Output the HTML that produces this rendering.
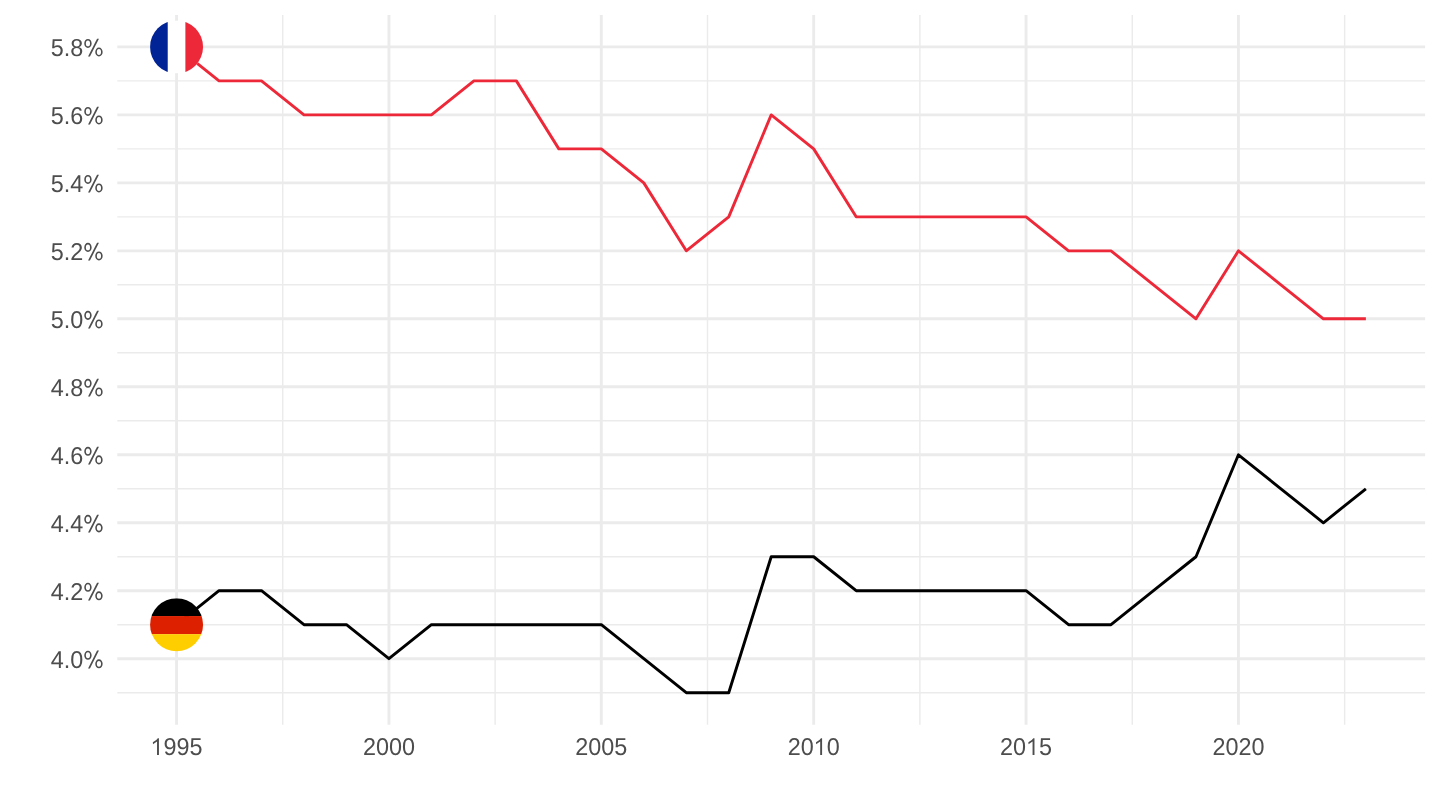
<!DOCTYPE html><html><head><meta charset="utf-8"><style>html,body{margin:0;padding:0;background:#fff}svg{display:block}text{text-rendering:geometricPrecision;font-family:"Liberation Sans",sans-serif;font-size:23.4px;fill:#4d4d4d}</style></head><body><div style="will-change:transform;transform:translateZ(0);width:1440px;height:810px">
<svg width="1440" height="810" viewBox="0 0 1440 810">
<rect width="1440" height="810" fill="#fff"/>
<g stroke="#ebebeb" stroke-width="1.45" fill="none">
<path d="M117.30 692.71H1425.10"/>
<path d="M117.30 624.73H1425.10"/>
<path d="M117.30 556.75H1425.10"/>
<path d="M117.30 488.77H1425.10"/>
<path d="M117.30 420.79H1425.10"/>
<path d="M117.30 352.81H1425.10"/>
<path d="M117.30 284.83H1425.10"/>
<path d="M117.30 216.85H1425.10"/>
<path d="M117.30 148.87H1425.10"/>
<path d="M117.30 80.89H1425.10"/>
<path d="M282.74 15.00V724.80"/>
<path d="M495.12 15.00V724.80"/>
<path d="M707.50 15.00V724.80"/>
<path d="M919.88 15.00V724.80"/>
<path d="M1132.26 15.00V724.80"/>
<path d="M1344.64 15.00V724.80"/>
</g>
<g stroke="#ebebeb" stroke-width="2.9" fill="none">
<path d="M117.30 658.72H1425.10"/>
<path d="M117.30 590.74H1425.10"/>
<path d="M117.30 522.76H1425.10"/>
<path d="M117.30 454.78H1425.10"/>
<path d="M117.30 386.80H1425.10"/>
<path d="M117.30 318.82H1425.10"/>
<path d="M117.30 250.84H1425.10"/>
<path d="M117.30 182.86H1425.10"/>
<path d="M117.30 114.88H1425.10"/>
<path d="M117.30 46.90H1425.10"/>
<path d="M176.55 15.00V724.80"/>
<path d="M388.93 15.00V724.80"/>
<path d="M601.31 15.00V724.80"/>
<path d="M813.69 15.00V724.80"/>
<path d="M1026.07 15.00V724.80"/>
<path d="M1238.45 15.00V724.80"/>
</g>
<polyline points="176.55,46.90 219.03,80.89 261.50,80.89 303.98,114.88 346.45,114.88 388.93,114.88 431.41,114.88 473.88,80.89 516.36,80.89 558.83,148.87 601.31,148.87 643.79,182.86 686.26,250.84 728.74,216.85 771.21,114.88 813.69,148.87 856.17,216.85 898.64,216.85 941.12,216.85 983.59,216.85 1026.07,216.85 1068.55,250.84 1111.02,250.84 1153.50,284.83 1195.97,318.82 1238.45,250.84 1280.93,284.83 1323.40,318.82 1365.88,318.82" fill="none" stroke="#ED2939" stroke-width="2.9" stroke-linejoin="round" stroke-linecap="butt"/>
<polyline points="176.55,624.73 219.03,590.74 261.50,590.74 303.98,624.73 346.45,624.73 388.93,658.72 431.41,624.73 473.88,624.73 516.36,624.73 558.83,624.73 601.31,624.73 643.79,658.72 686.26,692.71 728.74,692.71 771.21,556.75 813.69,556.75 856.17,590.74 898.64,590.74 941.12,590.74 983.59,590.74 1026.07,590.74 1068.55,624.73 1111.02,624.73 1153.50,590.74 1195.97,556.75 1238.45,454.78 1280.93,488.77 1323.40,522.76 1365.88,488.77" fill="none" stroke="#000000" stroke-width="2.9" stroke-linejoin="round" stroke-linecap="butt"/>
<clipPath id="cf"><circle cx="176.55" cy="46.90" r="26.5"/></clipPath>
<g clip-path="url(#cf)"><rect x="150.05" y="20.40" width="53.00" height="53.00" fill="#fff"/><rect x="150.05" y="20.40" width="17.67" height="53.00" fill="#002395"/><rect x="185.38" y="20.40" width="17.67" height="53.00" fill="#ED2939"/></g>
<clipPath id="cd"><circle cx="176.55" cy="624.73" r="26.5"/></clipPath>
<g clip-path="url(#cd)"><rect x="150.05" y="598.23" width="53.00" height="17.87" fill="#000"/><rect x="150.05" y="616.05" width="53.00" height="18.17" fill="#DD2000"/><rect x="150.05" y="634.16" width="53.00" height="17.67" fill="#FFCE00"/></g>
<g>
<text transform="translate(83.25 668.02) scale(1 1.04)" text-anchor="end">4.0</text>
<g transform="translate(83.25 668.02)"><g fill="none" stroke="#4d4d4d" stroke-width="1.6"><ellipse cx="4.7" cy="-12.75" rx="2.9" ry="3.72"/><ellipse cx="15.7" cy="-4.2" rx="2.9" ry="3.72"/></g><path d="M13.8 -17.4H15.7L6.7 0.4H4.8Z" fill="#4d4d4d"/></g>
<text transform="translate(83.25 600.04) scale(1 1.04)" text-anchor="end">4.2</text>
<g transform="translate(83.25 600.04)"><g fill="none" stroke="#4d4d4d" stroke-width="1.6"><ellipse cx="4.7" cy="-12.75" rx="2.9" ry="3.72"/><ellipse cx="15.7" cy="-4.2" rx="2.9" ry="3.72"/></g><path d="M13.8 -17.4H15.7L6.7 0.4H4.8Z" fill="#4d4d4d"/></g>
<text transform="translate(83.25 532.06) scale(1 1.04)" text-anchor="end">4.4</text>
<g transform="translate(83.25 532.06)"><g fill="none" stroke="#4d4d4d" stroke-width="1.6"><ellipse cx="4.7" cy="-12.75" rx="2.9" ry="3.72"/><ellipse cx="15.7" cy="-4.2" rx="2.9" ry="3.72"/></g><path d="M13.8 -17.4H15.7L6.7 0.4H4.8Z" fill="#4d4d4d"/></g>
<text transform="translate(83.25 464.08) scale(1 1.04)" text-anchor="end">4.6</text>
<g transform="translate(83.25 464.08)"><g fill="none" stroke="#4d4d4d" stroke-width="1.6"><ellipse cx="4.7" cy="-12.75" rx="2.9" ry="3.72"/><ellipse cx="15.7" cy="-4.2" rx="2.9" ry="3.72"/></g><path d="M13.8 -17.4H15.7L6.7 0.4H4.8Z" fill="#4d4d4d"/></g>
<text transform="translate(83.25 396.10) scale(1 1.04)" text-anchor="end">4.8</text>
<g transform="translate(83.25 396.10)"><g fill="none" stroke="#4d4d4d" stroke-width="1.6"><ellipse cx="4.7" cy="-12.75" rx="2.9" ry="3.72"/><ellipse cx="15.7" cy="-4.2" rx="2.9" ry="3.72"/></g><path d="M13.8 -17.4H15.7L6.7 0.4H4.8Z" fill="#4d4d4d"/></g>
<text transform="translate(83.25 328.12) scale(1 1.04)" text-anchor="end">5.0</text>
<g transform="translate(83.25 328.12)"><g fill="none" stroke="#4d4d4d" stroke-width="1.6"><ellipse cx="4.7" cy="-12.75" rx="2.9" ry="3.72"/><ellipse cx="15.7" cy="-4.2" rx="2.9" ry="3.72"/></g><path d="M13.8 -17.4H15.7L6.7 0.4H4.8Z" fill="#4d4d4d"/></g>
<text transform="translate(83.25 260.14) scale(1 1.04)" text-anchor="end">5.2</text>
<g transform="translate(83.25 260.14)"><g fill="none" stroke="#4d4d4d" stroke-width="1.6"><ellipse cx="4.7" cy="-12.75" rx="2.9" ry="3.72"/><ellipse cx="15.7" cy="-4.2" rx="2.9" ry="3.72"/></g><path d="M13.8 -17.4H15.7L6.7 0.4H4.8Z" fill="#4d4d4d"/></g>
<text transform="translate(83.25 192.16) scale(1 1.04)" text-anchor="end">5.4</text>
<g transform="translate(83.25 192.16)"><g fill="none" stroke="#4d4d4d" stroke-width="1.6"><ellipse cx="4.7" cy="-12.75" rx="2.9" ry="3.72"/><ellipse cx="15.7" cy="-4.2" rx="2.9" ry="3.72"/></g><path d="M13.8 -17.4H15.7L6.7 0.4H4.8Z" fill="#4d4d4d"/></g>
<text transform="translate(83.25 124.18) scale(1 1.04)" text-anchor="end">5.6</text>
<g transform="translate(83.25 124.18)"><g fill="none" stroke="#4d4d4d" stroke-width="1.6"><ellipse cx="4.7" cy="-12.75" rx="2.9" ry="3.72"/><ellipse cx="15.7" cy="-4.2" rx="2.9" ry="3.72"/></g><path d="M13.8 -17.4H15.7L6.7 0.4H4.8Z" fill="#4d4d4d"/></g>
<text transform="translate(83.25 56.20) scale(1 1.04)" text-anchor="end">5.8</text>
<g transform="translate(83.25 56.20)"><g fill="none" stroke="#4d4d4d" stroke-width="1.6"><ellipse cx="4.7" cy="-12.75" rx="2.9" ry="3.72"/><ellipse cx="15.7" cy="-4.2" rx="2.9" ry="3.72"/></g><path d="M13.8 -17.4H15.7L6.7 0.4H4.8Z" fill="#4d4d4d"/></g>
<g transform="translate(150.53 754.90)"><path d="M8.4 0H6.5V-13.3Q4.8 -11.9 2.5 -10.7L2.3 -12.6Q5.8 -14.2 7.3 -16.6H8.4Z" fill="#4d4d4d"/></g>
<text transform="translate(163.54 754.90) scale(1 1.04)">9</text>
<text transform="translate(176.55 754.90) scale(1 1.04)">9</text>
<text transform="translate(189.56 754.90) scale(1 1.04)">5</text>
<text transform="translate(362.91 754.90) scale(1 1.04)">2</text>
<text transform="translate(375.92 754.90) scale(1 1.04)">0</text>
<text transform="translate(388.93 754.90) scale(1 1.04)">0</text>
<text transform="translate(401.94 754.90) scale(1 1.04)">0</text>
<text transform="translate(575.29 754.90) scale(1 1.04)">2</text>
<text transform="translate(588.30 754.90) scale(1 1.04)">0</text>
<text transform="translate(601.31 754.90) scale(1 1.04)">0</text>
<text transform="translate(614.32 754.90) scale(1 1.04)">5</text>
<text transform="translate(787.67 754.90) scale(1 1.04)">2</text>
<text transform="translate(800.68 754.90) scale(1 1.04)">0</text>
<g transform="translate(813.69 754.90)"><path d="M8.4 0H6.5V-13.3Q4.8 -11.9 2.5 -10.7L2.3 -12.6Q5.8 -14.2 7.3 -16.6H8.4Z" fill="#4d4d4d"/></g>
<text transform="translate(826.70 754.90) scale(1 1.04)">0</text>
<text transform="translate(1000.05 754.90) scale(1 1.04)">2</text>
<text transform="translate(1013.06 754.90) scale(1 1.04)">0</text>
<g transform="translate(1026.07 754.90)"><path d="M8.4 0H6.5V-13.3Q4.8 -11.9 2.5 -10.7L2.3 -12.6Q5.8 -14.2 7.3 -16.6H8.4Z" fill="#4d4d4d"/></g>
<text transform="translate(1039.08 754.90) scale(1 1.04)">5</text>
<text transform="translate(1212.43 754.90) scale(1 1.04)">2</text>
<text transform="translate(1225.44 754.90) scale(1 1.04)">0</text>
<text transform="translate(1238.45 754.90) scale(1 1.04)">2</text>
<text transform="translate(1251.46 754.90) scale(1 1.04)">0</text>
</g>
</svg></div></body></html>
